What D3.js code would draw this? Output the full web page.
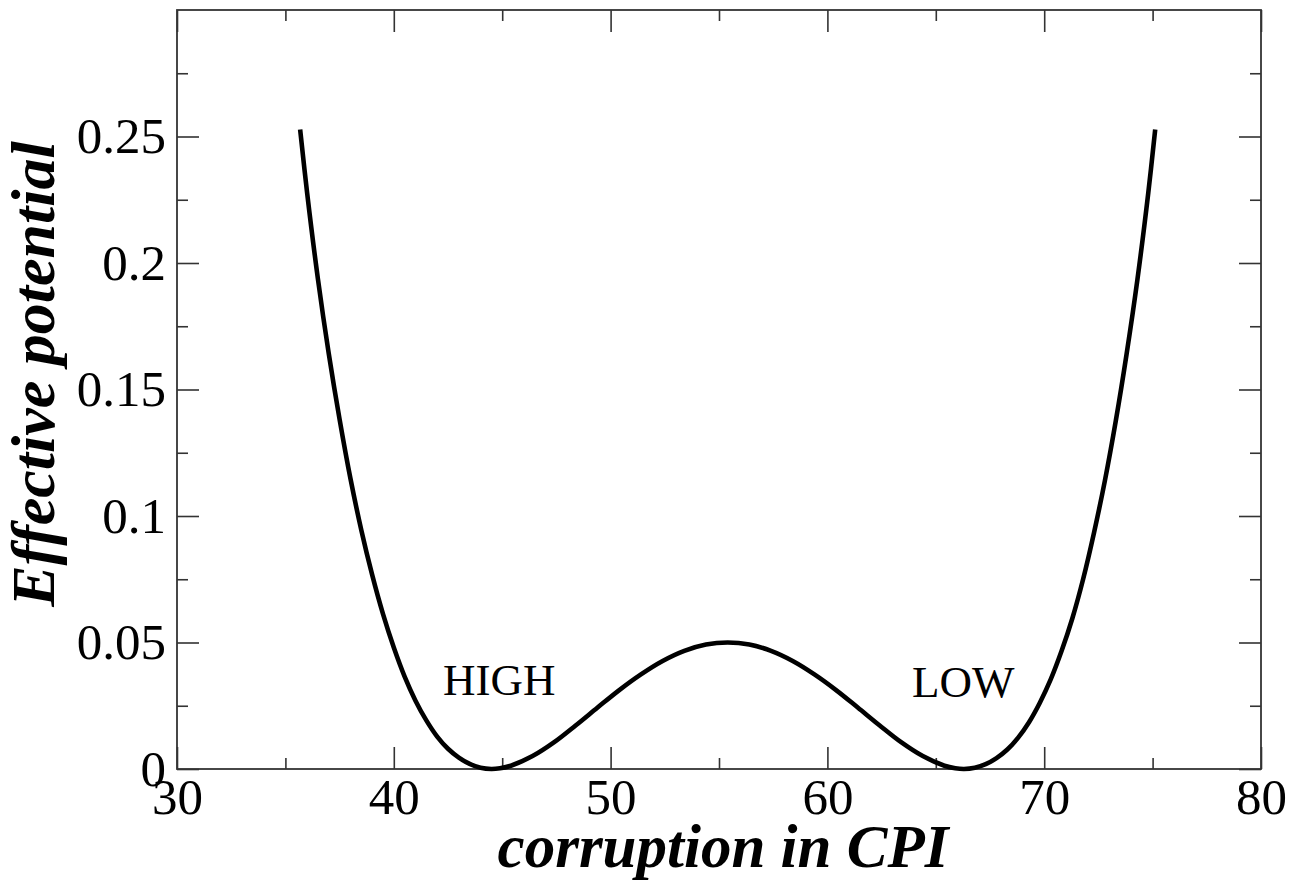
<!DOCTYPE html>
<html>
<head>
<meta charset="utf-8">
<script src="https://cdn.jsdelivr.net/npm/d3@7"></script>
<style>
  html, body { margin: 0; padding: 0; background: #fff; }
  svg { display: block; }
  text { font-family: "Liberation Serif", "Times New Roman", serif; fill: #000; }
</style>
</head>
<body>
<svg id="chart" width="1293" height="882"></svg>
<script>
// ---- data ----
const cpi = [35.68, 36.0, 36.5, 37.0, 37.5, 38.0, 38.5, 39.0, 39.5, 40.0, 40.5, 41.0, 41.5, 42.0, 42.5, 43.0, 43.5, 44.0,
             44.5, 44.9, 45.4, 46.4, 47.4, 48.4, 49.4, 50.4, 51.4, 52.4, 53.4, 54.4, 55.4, 56.4, 57.4, 58.4, 59.4,
             60.4, 61.4, 62.4, 63.4, 64.4, 65.4, 65.9, 66.3, 66.8, 67.3, 67.8, 68.3, 68.8, 69.3, 69.8, 70.3, 70.8,
             71.3, 71.8, 72.3, 72.8, 73.3, 73.8, 74.3, 74.8, 75.12];
const potential = [0.2528, 0.2279, 0.1937, 0.1642, 0.1382, 0.1148, 0.0945, 0.0768, 0.0613, 0.0480, 0.0365, 0.0270, 0.0192,
                   0.0128, 0.0080, 0.0045, 0.0020, 0.0005, 0.0000, 0.0003, 0.0013, 0.0051, 0.0106, 0.0173, 0.0243, 0.0312,
                   0.0374, 0.0427, 0.0467, 0.0492, 0.0500, 0.0492, 0.0467, 0.0427, 0.0374, 0.0312, 0.0243, 0.0173, 0.0106,
                   0.0051, 0.0013, 0.0003, 0.0000, 0.0005, 0.0019, 0.0043, 0.0077, 0.0124, 0.0185, 0.0262, 0.0354, 0.0466,
                   0.0596, 0.0752, 0.0935, 0.1140, 0.1375, 0.1640, 0.1935, 0.2277, 0.2528];
const xMajorTicks = [30, 40, 50, 60, 70, 80];
const xMinorTicks = [35, 45, 55, 65, 75];
const yMajorTicks = [0, 0.05, 0.1, 0.15, 0.2, 0.25];
const yTickLabels = ["0", "0.05", "0.1", "0.15", "0.2", "0.25"];
const yMinorTicks = [0.025, 0.075, 0.125, 0.175, 0.225, 0.275];
const annoText = ["HIGH", "LOW"];
const annoX = [42.27, 63.9];
const annoY = [0.0293, 0.0285];
const xTitle = "corruption in CPI";
const yTitle = "Effective potential";

// ---- layout ----
const L = 177, R = 1261, T = 10, B = 769;
const svg = d3.select("#chart");
const x = d3.scaleLinear().domain([30, 80]).range([L, R]);
const y = d3.scaleLinear().domain([0, 0.3]).range([B, T]);

const axisColor = "#333";
function styleAxis(g) {
  g.select(".domain").remove();
  g.selectAll(".tick line").attr("stroke", axisColor).attr("stroke-width", 1.6);
  g.selectAll(".tick text").attr("fill", "#000").style("font-size", "51px")
    .style("font-family", '"Liberation Serif", "Times New Roman", serif');
}

// bottom
svg.append("g").attr("transform", `translate(0,${B})`)
  .call(d3.axisBottom(x).tickValues(xMajorTicks).tickSizeInner(-22).tickSizeOuter(0).tickPadding(9).tickFormat(d3.format("d")))
  .call(styleAxis);
svg.append("g").attr("transform", `translate(0,${B})`)
  .call(d3.axisBottom(x).tickValues(xMinorTicks).tickSizeInner(-11).tickSizeOuter(0).tickFormat(""))
  .call(styleAxis);
// top
svg.append("g").attr("transform", `translate(0,${T})`)
  .call(d3.axisTop(x).tickValues(xMajorTicks).tickSizeInner(-22).tickSizeOuter(0).tickFormat(""))
  .call(styleAxis);
svg.append("g").attr("transform", `translate(0,${T})`)
  .call(d3.axisTop(x).tickValues(xMinorTicks).tickSizeInner(-11).tickSizeOuter(0).tickFormat(""))
  .call(styleAxis);
// left
svg.append("g").attr("transform", `translate(${L},0)`)
  .call(d3.axisLeft(y).tickValues(yMajorTicks).tickSizeInner(-22).tickSizeOuter(0).tickPadding(11)
    .tickFormat((d, i) => yTickLabels[i]))
  .call(styleAxis);
svg.append("g").attr("transform", `translate(${L},0)`)
  .call(d3.axisLeft(y).tickValues(yMinorTicks).tickSizeInner(-11).tickSizeOuter(0).tickFormat(""))
  .call(styleAxis);
// right
svg.append("g").attr("transform", `translate(${R},0)`)
  .call(d3.axisRight(y).tickValues(yMajorTicks).tickSizeInner(-22).tickSizeOuter(0).tickFormat(""))
  .call(styleAxis);
svg.append("g").attr("transform", `translate(${R},0)`)
  .call(d3.axisRight(y).tickValues(yMinorTicks).tickSizeInner(-11).tickSizeOuter(0).tickFormat(""))
  .call(styleAxis);

// frame
svg.append("rect").attr("x", L).attr("y", T).attr("width", R - L).attr("height", B - T)
  .attr("fill", "none").attr("stroke", axisColor).attr("stroke-width", 1.8);

// curve
const pts = cpi.map((c, i) => [c, potential[i]]);
svg.append("path").datum(pts)
  .attr("fill", "none").attr("stroke", "#000").attr("stroke-width", 4.6)
  .attr("stroke-linejoin", "round")
  .attr("d", d3.line().x(d => x(d[0])).y(d => y(d[1])).curve(d3.curveCatmullRom.alpha(0.5)));

// annotations
svg.selectAll("text.anno").data(annoText).join("text").attr("class", "anno")
  .attr("x", (d, i) => x(annoX[i])).attr("y", (d, i) => y(annoY[i]))
  .style("font-size", "45px").text(d => d);

// axis titles
svg.append("text").attr("x", 723).attr("y", 867).attr("text-anchor", "middle")
  .style("font-size", "61px").style("font-weight", "bold").style("font-style", "italic").text(xTitle);
svg.append("text").attr("transform", "translate(54,374) rotate(-90)").attr("text-anchor", "middle")
  .style("font-size", "62px").style("font-weight", "bold").style("font-style", "italic").text(yTitle);
</script>
</body>
</html>
